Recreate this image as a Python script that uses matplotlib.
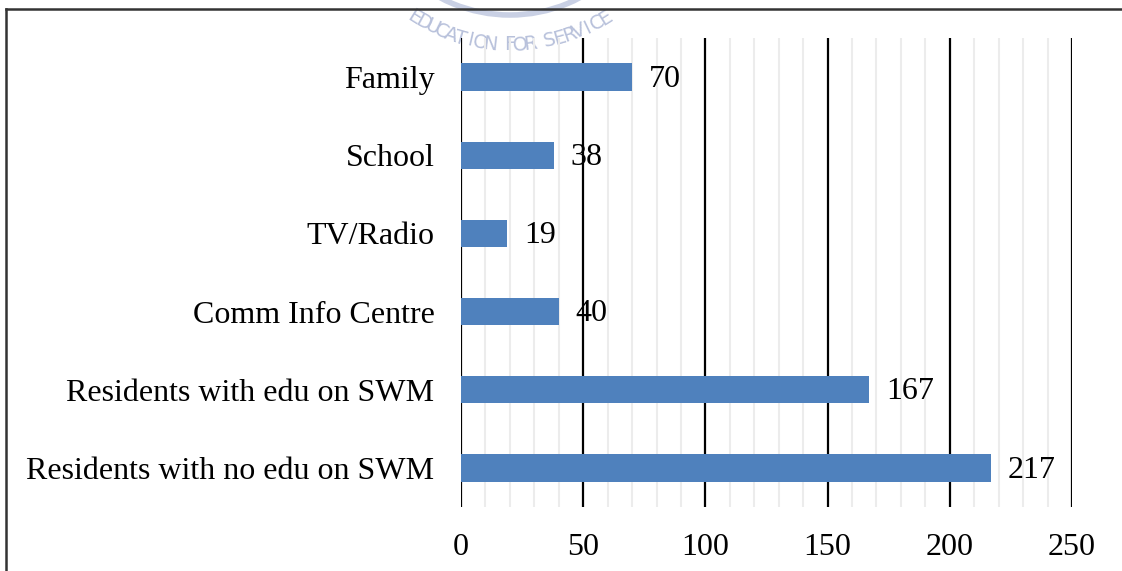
import matplotlib
matplotlib.use("Agg")
import matplotlib.pyplot as plt
from matplotlib.lines import Line2D
from matplotlib.patches import Arc
import numpy as np

categories = ["Residents with no edu on SWM", "Residents with edu on SWM",
              "Comm Info Centre", "TV/Radio", "School", "Family"]
values = [217, 167, 40, 19, 38, 70]
xticks = [0, 50, 100, 150, 200, 250]

W, H = 1122, 571
fig = plt.figure(figsize=(W / 100, H / 100), dpi=100)
plt.rcParams['font.family'] = ['Liberation Serif', 'DejaVu Serif']

# faint watermark: logo ring and arc text (drawn underneath)
cx, cy, r = 510, -135, 180
wm = fig.add_axes([0, 0, 1, 1], zorder=0)
wm.set_xlim(0, W)
wm.set_ylim(H, 0)
wm.axis('off')
wm.add_patch(Arc((cx, cy), 2 * 150, 2 * 150, theta1=0, theta2=360,
                 color='#c9d0e4', linewidth=4))
text = "EDUCATION FOR SERVICE"
angs = np.linspace(238, 302, len(text))
for ch, a in zip(text, angs):
    ar = np.deg2rad(a)
    px = cx + r * np.cos(ar)
    py = cy - r * np.sin(ar)
    wm.text(px, py, ch, ha='center', va='center', fontsize=14,
            family='DejaVu Sans', color='#b8c1db', rotation=a - 270)

ax = fig.add_axes([461 / W, 1 - 507 / H, (1072 - 461) / W, (507 - 38) / H], zorder=1)
ax.patch.set_alpha(0)
y = np.arange(len(categories))
ax.barh(y, values, height=0.35, color="#4f81bd", zorder=3)
ax.set_ylim(-0.5, len(categories) - 0.5)
ax.set_xlim(0, 250)
ax.set_xticks(xticks)
ax.set_xticks(np.arange(0, 251, 10), minor=True)
ax.grid(axis='x', which='minor', color='#ececec', linewidth=1.5, zorder=0)
ax.grid(axis='x', which='major', color='black', linewidth=1.6, zorder=4)
ax.set_yticks(y)
ax.set_yticklabels(categories, fontsize=23)
ax.tick_params(axis='x', which='both', length=0, labelsize=23, pad=19)
ax.tick_params(axis='y', length=0, pad=19)
for s in ax.spines.values():
    s.set_visible(False)

for yi, v in zip(y, values):
    ax.annotate(str(v), (v, yi), xytext=(12, -1.5), textcoords='offset points',
                va='center', ha='left', fontsize=23, zorder=2)

# figure frame
fig.add_artist(Line2D([6 / W, 1.0], [1 - 9 / H, 1 - 9 / H], transform=fig.transFigure,
                      color='#333333', linewidth=1.8, zorder=10))
fig.add_artist(Line2D([6 / W, 6 / W], [0, 1 - 9 / H], transform=fig.transFigure,
                      color='#333333', linewidth=1.8, zorder=10))

fig.savefig("out.png", dpi=100)
